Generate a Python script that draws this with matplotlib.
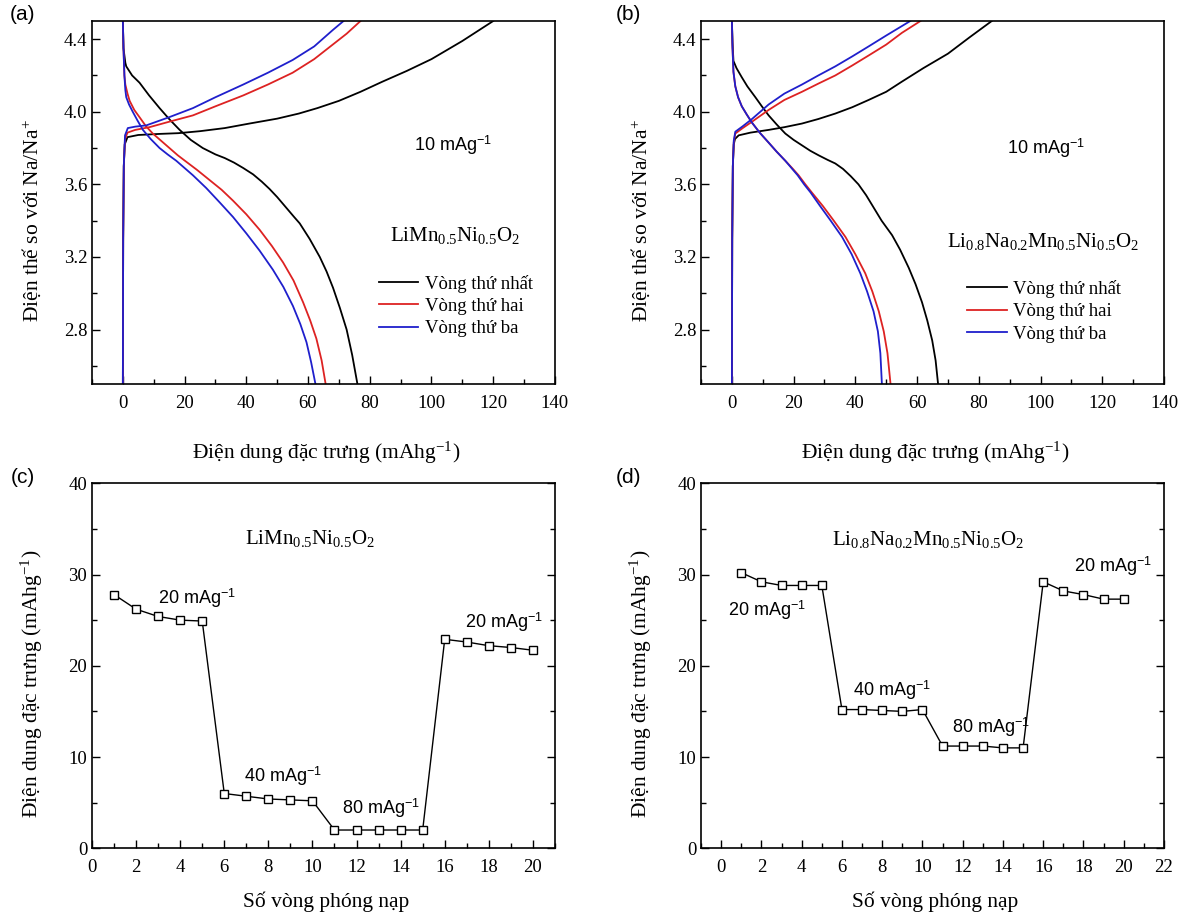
import matplotlib
matplotlib.use('Agg')
import matplotlib.pyplot as plt
from matplotlib.ticker import MultipleLocator, FixedLocator, FormatStrFormatter

plt.rcParams['font.family'] = 'Liberation Serif'
plt.rcParams['mathtext.fontset'] = 'custom'
plt.rcParams['mathtext.rm'] = 'Liberation Serif'
plt.rcParams['mathtext.it'] = 'Liberation Serif:italic'
plt.rcParams['mathtext.bf'] = 'Liberation Serif:bold'
plt.rcParams['mathtext.sf'] = 'Liberation Sans'

# ---- (a) LiMn0.5Ni0.5O2, 10 mA/g ----
a_ch1_x = [0, 0.1, 0.3, 0.6, 1.5, 5, 12, 18, 25, 33, 41, 50, 57, 63, 70, 77, 84, 92, 100, 110, 120]
a_ch1_v = [2.5, 3.3, 3.7, 3.82, 3.86, 3.872, 3.878, 3.882, 3.893, 3.91, 3.935, 3.962, 3.99, 4.02, 4.06, 4.11, 4.165, 4.225, 4.29, 4.39, 4.5]
a_ch2_x = [0, 0.1, 0.3, 0.7, 1.5, 4, 8.6, 15, 22.7, 30, 39, 47, 55, 62, 68, 72.5, 77]
a_ch2_v = [2.5, 3.3, 3.7, 3.85, 3.885, 3.9, 3.915, 3.945, 3.98, 4.03, 4.09, 4.15, 4.215, 4.29, 4.37, 4.43, 4.5]
a_ch3_x = [0, 0.1, 0.3, 0.7, 1.6, 4, 7.6, 15, 22.7, 30, 39, 47, 55, 62, 68, 71.5]
a_ch3_v = [2.5, 3.3, 3.7, 3.87, 3.91, 3.918, 3.925, 3.97, 4.02, 4.08, 4.15, 4.215, 4.285, 4.36, 4.45, 4.5]

a_dc1_x = [0, 0.2, 0.8, 1.1, 3, 5.4, 8.5, 11.9, 15, 18.4, 22, 25.9, 30, 33, 36, 39, 42.2, 45, 47.5, 50, 53,
           55.5, 57.3, 60.5, 63.8, 66, 68.1, 70.3, 72.5, 74.3, 76]
a_dc1_v = [4.5, 4.35, 4.27, 4.25, 4.2, 4.16, 4.09, 4.02, 3.96, 3.9, 3.845, 3.8, 3.765, 3.745, 3.72, 3.69, 3.655, 3.615, 3.575, 3.53, 3.47,
           3.42, 3.385, 3.3, 3.2, 3.12, 3.03, 2.92, 2.8, 2.66, 2.5]
a_dc2_x = [0, 0.2, 0.5, 0.8, 1.5, 2.2, 3.7, 5.4, 7.5, 9.7, 12.4, 15.1, 17.8, 20.5, 24, 28, 32, 35.7, 40, 44.3,
           48.3, 51.9, 55.3, 58.4, 60.7, 62.7, 64.4, 65.7]
a_dc2_v = [4.5, 4.35, 4.2, 4.15, 4.1, 4.06, 4.01, 3.97, 3.92, 3.88, 3.84, 3.8, 3.76, 3.725, 3.68, 3.625, 3.57, 3.51, 3.435, 3.35,
           3.26, 3.17, 3.07, 2.95, 2.85, 2.75, 2.63, 2.5]
a_dc3_x = [0, 0.2, 0.5, 0.8, 1.1, 2, 3.2, 4.8, 6.5, 9, 11.9, 14.5, 17.3, 20, 22.7, 27, 31.4, 35.7, 40, 44.3,
           48.6, 52, 55.1, 57.5, 59.5, 61, 62.4]
a_dc3_v = [4.5, 4.35, 4.2, 4.12, 4.08, 4.04, 4.0, 3.95, 3.9, 3.85, 3.8, 3.765, 3.73, 3.69, 3.65, 3.58, 3.5, 3.42, 3.33, 3.235,
           3.13, 3.035, 2.93, 2.83, 2.73, 2.62, 2.5]

# ---- (b) Li0.8Na0.2Mn0.5Ni0.5O2, 10 mA/g ----
b_ch1_x = [0, 0.1, 0.3, 0.6, 1, 2.2, 6, 11.9, 17, 22.7, 28, 33.5, 39, 44.3, 50, 55, 62, 70, 77, 84.2]
b_ch1_v = [2.5, 3.3, 3.7, 3.82, 3.85, 3.87, 3.885, 3.9, 3.915, 3.935, 3.96, 3.99, 4.025, 4.065, 4.11, 4.165, 4.24, 4.32, 4.41, 4.5]
b_ch2_x = [0, 0.1, 0.3, 0.6, 1.1, 3.5, 6.5, 11.9, 17, 22.7, 28, 33.5, 39, 44.3, 50, 55.1, 61.1]
b_ch2_v = [2.5, 3.3, 3.7, 3.83, 3.88, 3.91, 3.945, 4.01, 4.065, 4.11, 4.155, 4.2, 4.255, 4.31, 4.37, 4.435, 4.5]
b_ch3_x = [0, 0.1, 0.3, 0.6, 1.1, 3.5, 6.5, 11.9, 17, 22.7, 28, 33.5, 39, 44.3, 50, 57.8]
b_ch3_v = [2.5, 3.3, 3.7, 3.84, 3.89, 3.92, 3.96, 4.04, 4.1, 4.15, 4.2, 4.25, 4.305, 4.36, 4.42, 4.5]

b_dc1_x = [0, 0.2, 0.5, 1.5, 3.2, 5, 7.6, 9.7, 11.9, 14.5, 17.3, 20, 22.7, 25.4, 28.1, 31, 33.5, 36, 38.5, 41,
           43.5, 46, 48.5, 51.9, 54.5, 57.3, 59.5, 61.6, 63.3, 64.9, 66, 66.8]
b_dc1_v = [4.5, 4.38, 4.28, 4.24, 4.19, 4.14, 4.08, 4.03, 3.98, 3.93, 3.88, 3.845, 3.815, 3.785, 3.76, 3.735, 3.715, 3.685, 3.645, 3.6,
           3.54, 3.47, 3.4, 3.32, 3.24, 3.14, 3.05, 2.95, 2.85, 2.74, 2.63, 2.5]
b_dc2_x = [0, 0.2, 0.5, 1.1, 2, 3.2, 4.8, 6.5, 9, 11.9, 14.5, 17.3, 19.5, 21.6, 23.8, 25.9, 29.5, 33, 36.8, 40,
           43.2, 45.5, 47.6, 49.2, 50.4, 51.4]
b_dc2_v = [4.5, 4.35, 4.22, 4.14, 4.08, 4.03, 3.985, 3.94, 3.885, 3.83, 3.78, 3.73, 3.69, 3.65, 3.6, 3.555, 3.48, 3.4, 3.31, 3.215,
           3.11, 3.01, 2.9, 2.79, 2.67, 2.5]
b_dc3_x = [0, 0.2, 0.5, 1.1, 2, 3.2, 4.8, 6.5, 9, 11.9, 14.5, 17.3, 19.3, 21.3, 23.4, 25.5, 28.6, 32, 35.7, 38.8,
           41.6, 43.8, 45.9, 47.3, 48.1, 48.6]
b_dc3_v = [4.5, 4.35, 4.22, 4.14, 4.08, 4.03, 3.985, 3.94, 3.885, 3.83, 3.78, 3.73, 3.69, 3.65, 3.6, 3.555, 3.48, 3.4, 3.31, 3.215,
           3.11, 3.01, 2.9, 2.79, 2.67, 2.5]

# ---- (c), (d) rate capability ----
cycles = list(range(1, 21))
c_cap = [27.8, 26.2, 25.4, 25.0, 24.9, 6.0, 5.7, 5.4, 5.3, 5.2,
         2.0, 2.0, 2.0, 2.0, 2.0, 22.9, 22.6, 22.2, 22.0, 21.7]
d_cap = [30.2, 29.2, 28.8, 28.8, 28.8, 15.2, 15.2, 15.1, 15.0, 15.2,
         11.2, 11.2, 11.2, 11.0, 11.0, 29.2, 28.2, 27.8, 27.3, 27.3]

legend_labels = ['Vòng thứ nhất', 'Vòng thứ hai', 'Vòng thứ ba']
colors = ['black', '#dd2222', '#1f1fcc']
rate_text = '10 mAg$^{\\mathsf{-1}}$'

fig = plt.figure(figsize=(11.81, 9.13), dpi=100)
ax_a = fig.add_axes([0.0779, 0.5794, 0.392, 0.3976])
ax_b = fig.add_axes([0.5936, 0.5794, 0.392, 0.3976])
ax_c = fig.add_axes([0.0779, 0.0709, 0.392, 0.3998])
ax_d = fig.add_axes([0.5936, 0.0709, 0.392, 0.3998])

xlab_cap = 'Điện dung đặc trưng (mAhg$^{\\mathrm{-1}}$)'


def style_voltage(ax, charge, discharge, formula, fx, fy, rx, ry, lx, ly):
    for (cx, cv), (dx, dv), col, lab in zip(charge, discharge, colors, legend_labels):
        ax.plot(cx, cv, color=col, lw=1.3, label=lab)
        ax.plot(dx, dv, color=col, lw=1.3)
    ax.set_xlim(-10, 140)
    ax.set_ylim(2.5, 4.5)
    ax.xaxis.set_major_locator(MultipleLocator(20))
    ax.xaxis.set_minor_locator(MultipleLocator(10))
    ax.yaxis.set_major_locator(FixedLocator([2.8, 3.2, 3.6, 4.0, 4.4]))
    ax.yaxis.set_minor_locator(MultipleLocator(0.2))
    ax.yaxis.set_major_formatter(FormatStrFormatter('%.1f'))
    ax.tick_params(which='both', direction='in', labelsize=13.5, width=1)
    ax.tick_params(which='major', length=6)
    ax.tick_params(which='minor', length=3.5)
    ax.tick_params(axis='x', pad=8)
    ax.set_xlabel(xlab_cap, fontsize=15.5)
    ax.set_ylabel('Điện thế so với Na/Na$^{+}$', fontsize=15.5)
    ax.xaxis.set_label_coords(0.505, -0.19)
    ax.xaxis.label.set_va('center')
    ax.yaxis.set_label_coords(-0.13, 0.45)
    ax.yaxis.label.set_va('center')
    ax.text(fx, fy, formula, fontsize=15, ha='center', va='center')
    ax.text(rx, ry, rate_text, fontsize=13, family='Liberation Sans', ha='center', va='center')
    ax.legend(loc='center left', bbox_to_anchor=(lx, ly), frameon=False, fontsize=13.5,
              handlelength=2.1, handletextpad=0.35, labelspacing=0.28,
              borderpad=0, borderaxespad=0)
    for s in ax.spines.values():
        s.set_linewidth(1.2)


style_voltage(ax_a,
              [(a_ch1_x, a_ch1_v), (a_ch2_x, a_ch2_v), (a_ch3_x, a_ch3_v)],
              [(a_dc1_x, a_dc1_v), (a_dc2_x, a_dc2_v), (a_dc3_x, a_dc3_v)],
              'LiMn$_{\\mathrm{0.5}}$Ni$_{\\mathrm{0.5}}$O$_{\\mathrm{2}}$',
              107.5, 3.32, 107, 3.815, 0.62, 0.215)
style_voltage(ax_b,
              [(b_ch1_x, b_ch1_v), (b_ch2_x, b_ch2_v), (b_ch3_x, b_ch3_v)],
              [(b_dc1_x, b_dc1_v), (b_dc2_x, b_dc2_v), (b_dc3_x, b_dc3_v)],
              'Li$_{\\mathrm{0.8}}$Na$_{\\mathrm{0.2}}$Mn$_{\\mathrm{0.5}}$Ni$_{\\mathrm{0.5}}$O$_{\\mathrm{2}}$',
              100.7, 3.285, 101.8, 3.80, 0.575, 0.20)


def style_rate(ax, cap, formula, fx, fy, notes, xlim, xmaj):
    ax.plot(cycles, cap, color='black', lw=1, marker='s', markersize=6,
            markerfacecolor='white', markeredgecolor='black', markeredgewidth=1)
    ax.set_xlim(*xlim)
    ax.set_ylim(0, 40)
    ax.xaxis.set_major_locator(FixedLocator(xmaj))
    ax.xaxis.set_minor_locator(MultipleLocator(1))
    ax.yaxis.set_major_locator(MultipleLocator(10))
    ax.yaxis.set_minor_locator(MultipleLocator(5))
    ax.tick_params(which='both', direction='in', labelsize=13.5, width=1, right=True)
    ax.tick_params(which='major', length=6)
    ax.tick_params(which='minor', length=3.5)
    ax.tick_params(axis='x', pad=8)
    ax.set_xlabel('Số vòng phóng nạp', fontsize=15.5)
    ax.set_ylabel(xlab_cap, fontsize=15.5)
    ax.xaxis.set_label_coords(0.505, -0.146)
    ax.xaxis.label.set_va('center')
    ax.yaxis.set_label_coords(-0.13, 0.45)
    ax.yaxis.label.set_va('center')
    ax.text(fx, fy, formula, fontsize=15, ha='center', va='center')
    for nx, ny, nt in notes:
        ax.text(nx, ny, nt, fontsize=13, family='Liberation Sans', ha='left', va='center')
    for s in ax.spines.values():
        s.set_linewidth(1.2)


def rate(v):
    return '%d mAg$^{\\mathsf{-1}}$' % v


style_rate(ax_c, c_cap, 'LiMn$_{\\mathrm{0.5}}$Ni$_{\\mathrm{0.5}}$O$_{\\mathrm{2}}$', 9.9, 34.0,
           [(3.0, 27.4, rate(20)), (6.9, 7.85, rate(40)), (11.34, 4.4, rate(80)), (16.9, 24.8, rate(20))],
           (0, 21), list(range(0, 21, 2)))
style_rate(ax_d, d_cap,
           'Li$_{\\mathrm{0.8}}$Na$_{\\mathrm{0.2}}$Mn$_{\\mathrm{0.5}}$Ni$_{\\mathrm{0.5}}$O$_{\\mathrm{2}}$',
           10.3, 33.8,
           [(0.36, 26.1, rate(20)), (6.53, 17.35, rate(40)), (11.46, 13.3, rate(80)), (17.52, 30.9, rate(20))],
           (-1, 22), list(range(0, 23, 2)))

for lab, x, y in [('(a)', 0.019, 0.9836), ('(b)', 0.532, 0.9836), ('(c)', 0.019, 0.4775), ('(d)', 0.532, 0.4775)]:
    fig.text(x, y, lab, fontsize=15, family='Liberation Sans', ha='center', va='center')

fig.savefig('out.png', dpi=100)
